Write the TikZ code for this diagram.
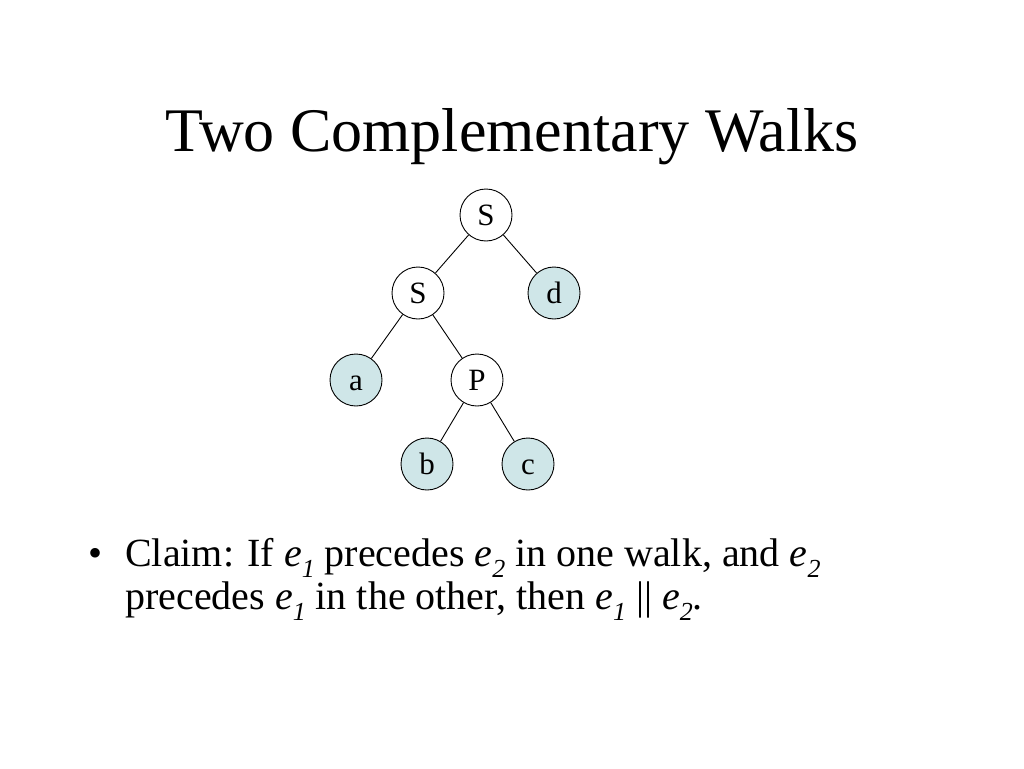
\documentclass[tikz,border=0pt]{standalone}
\usepackage{fontspec}
\setmainfont{Liberation Serif}
\newcommand{\sub}[1]{\raisebox{-0.28em}{\fontsize{26}{26}\selectfont\itshape #1}}
\begin{document}
\begin{tikzpicture}[x=1pt,y=-1pt,
  nd/.style={circle,draw=black,line width=0.9pt,minimum size=52pt,inner sep=0pt,text height=20pt,text depth=0pt,font=\fontsize{31}{31}\selectfont},
  leaf/.style={nd,fill=leafc},
  edge/.style={line width=0.9pt},
  body/.style={inner sep=0pt,font=\fontsize{40}{43}\selectfont}]
\definecolor{leafc}{RGB}{207,230,232}
\useasboundingbox (0,0) rectangle (1024,768);
\node (title) at (512,137) {\fontsize{62}{62}\selectfont Two Complementary Walks};
\node[nd] (s1) at (486,215) {S};
\node[nd] (s2) at (418,293) {S};
\node[leaf] (d) at (554,293) {d};
\node[leaf] (a) at (356,380) {a};
\node[nd] (p) at (477,380) {P};
\node[leaf] (b) at (427,464) {b};
\node[leaf] (c) at (528,464) {c};
\draw[edge] (s1) -- (s2);
\draw[edge] (s1) -- (d);
\draw[edge] (s2) -- (a);
\draw[edge] (s2) -- (p);
\draw[edge] (p) -- (b);
\draw[edge] (p) -- (c);
\node[body,anchor=base west] (bul) at (88,566) {•};
\node[body,anchor=north west,align=left] (claim) at (125,538) {Claim: If \textit{e}\sub{1} precedes \textit{e}\sub{2} in one walk, and \textit{e}\sub{2}\\precedes \textit{e}\sub{1} in the other, then \textit{e}\sub{1} || \textit{e}\sub{2}.};
\end{tikzpicture}
\end{document}
